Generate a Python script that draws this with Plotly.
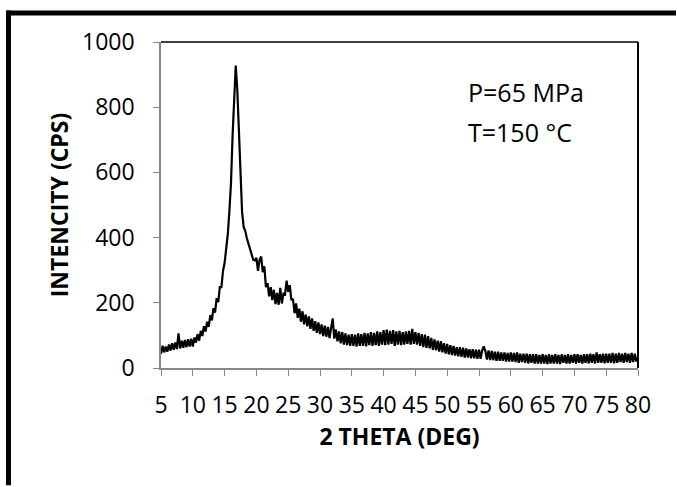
import plotly.graph_objects as go

# 2-theta grid (deg): measurement step 0.25 deg from 5 to 80
theta_start = 5.0
theta_step = 0.25
# Intensity (CPS), one row per 5 deg
intensity_05_10 = [44, 68, 48, 66, 50, 72, 54, 76, 56, 78, 58, 106, 60, 84, 62, 86, 64, 88, 66, 90]
intensity_10_15 = [66, 94, 78, 104, 84, 114, 98, 128, 112, 142, 126, 162, 146, 184, 170, 214, 202, 248, 248, 298]
intensity_15_20 = [322, 368, 410, 480, 565, 710, 842, 928, 852, 722, 580, 478, 432, 420, 398, 382, 360, 348, 332, 330]
intensity_20_25 = [338, 298, 332, 342, 294, 312, 248, 260, 220, 248, 208, 240, 196, 230, 194, 246, 198, 228, 226, 268]
intensity_25_30 = [234, 254, 208, 212, 168, 198, 154, 182, 142, 174, 134, 164, 128, 158, 120, 152, 114, 144, 108, 140]
intensity_30_35 = [104, 134, 98, 130, 96, 126, 92, 124, 152, 90, 118, 82, 112, 76, 110, 72, 106, 70, 102, 68]
intensity_35_40 = [104, 68, 102, 66, 106, 68, 104, 68, 108, 66, 106, 70, 110, 68, 108, 70, 112, 68, 110, 72]
intensity_40_45 = [116, 70, 118, 72, 114, 74, 116, 68, 112, 72, 114, 70, 110, 72, 112, 74, 114, 72, 120, 74]
intensity_45_50 = [110, 72, 108, 68, 104, 64, 102, 62, 98, 60, 92, 56, 88, 54, 84, 50, 82, 48, 76, 44]
intensity_50_55 = [74, 42, 70, 40, 68, 38, 64, 36, 64, 34, 62, 32, 60, 32, 58, 30, 58, 30, 56, 28]
intensity_55_60 = [56, 28, 54, 66, 52, 26, 54, 24, 52, 24, 50, 22, 50, 22, 48, 22, 48, 20, 46, 20]
intensity_60_65 = [48, 20, 46, 18, 48, 16, 44, 18, 44, 16, 44, 14, 42, 16, 42, 14, 42, 14, 40, 14]
intensity_65_70 = [42, 14, 40, 12, 42, 14, 40, 14, 42, 14, 40, 12, 42, 16, 40, 14, 42, 14, 40, 16]
intensity_70_75 = [42, 14, 42, 16, 40, 14, 42, 16, 42, 14, 44, 16, 42, 14, 48, 16, 42, 16, 44, 14]
intensity_75_80 = [44, 16, 44, 16, 46, 14, 44, 16, 46, 18, 44, 16, 46, 18, 44, 16, 46, 18, 44, 20]
intensity_80 = [32]

intensity = (intensity_05_10 + intensity_10_15 + intensity_15_20 + intensity_20_25 +
             intensity_25_30 + intensity_30_35 + intensity_35_40 + intensity_40_45 +
             intensity_45_50 + intensity_50_55 + intensity_55_60 + intensity_60_65 +
             intensity_65_70 + intensity_70_75 + intensity_75_80 + intensity_80)
two_theta = [theta_start + theta_step * i for i in range(len(intensity))]

x_ticks = list(range(5, 81, 5))
y_ticks = list(range(0, 1001, 200))
x_title = "2 THETA (DEG)"
y_title = "INTENCITY (CPS)"
notes = ["P=65 MPa", "T=150 °C"]

FONT = "Open Sans"
AXIS_GRAY = "#868686"

fig = go.Figure()
fig.add_trace(go.Scatter(x=two_theta, y=intensity, mode="lines",
                         line=dict(color="black", width=2.2), showlegend=False))

fig.update_layout(
    width=677, height=487, autosize=False,
    margin=dict(l=161, r=39, t=42, b=119, pad=0),
    paper_bgcolor="white", plot_bgcolor="white",
    font=dict(family=FONT, size=23, color="black"),
    xaxis=dict(range=[5, 80], tickvals=x_ticks, ticktext=[str(v) for v in x_ticks],
               showgrid=False, zeroline=False, showline=True, linecolor=AXIS_GRAY, linewidth=1.5,
               ticks="outside", ticklen=6, tickcolor=AXIS_GRAY, tickwidth=1.2, tickangle=0,
               tickfont=dict(family=FONT, size=23), ticklabelstandoff=10,
               title=dict(text="<b>" + x_title + "</b>", font=dict(family=FONT, size=23), standoff=10)),
    yaxis=dict(range=[0, 1000], tickvals=y_ticks, ticktext=[str(v) for v in y_ticks],
               showgrid=False, zeroline=False, showline=True, linecolor=AXIS_GRAY, linewidth=1.5,
               ticks="outside", ticklen=6, tickcolor=AXIS_GRAY, tickwidth=1.2,
               tickfont=dict(family=FONT, size=23), ticklabelstandoff=14,
               title=dict(text="<b>" + y_title + "</b>", font=dict(family=FONT, size=23), standoff=7)),
)

# black top/right plot-area border
fig.add_shape(type="line", xref="x domain", yref="y domain", x0=0, x1=1, y0=1, y1=1,
              line=dict(color="black", width=1.5))
fig.add_shape(type="line", xref="x domain", yref="y domain", x0=1, x1=1, y0=0, y1=1,
              line=dict(color="black", width=2))
# thick outer frame: top and left edges only, kept inside the picture
fig.add_shape(type="line", xref="paper", yref="paper", x0=-0.3250, x1=1.0797, y0=1.0888, y1=1.0888,
              line=dict(color="black", width=5))
fig.add_shape(type="line", xref="paper", yref="paper", x0=-0.3197, x1=-0.3197, y0=1.0965, y1=-0.36,
              line=dict(color="black", width=5))

fig.add_annotation(x=53.0, y=847, xref="x", yref="y", text=notes[0], showarrow=False,
                   xanchor="left", yanchor="middle", font=dict(family=FONT, size=25))
fig.add_annotation(x=53.0, y=724, xref="x", yref="y", text=notes[1], showarrow=False,
                   xanchor="left", yanchor="middle", font=dict(family=FONT, size=25))

fig.write_html("out.html", config={"displayModeBar": False})
